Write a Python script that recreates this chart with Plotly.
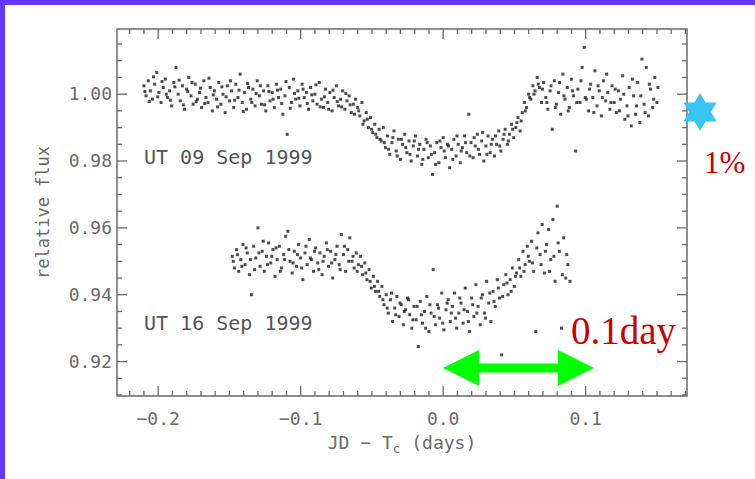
import plotly.graph_objects as go

# ---------------- data ----------------
sep09_x = [
    -0.2100, -0.2085, -0.2070, -0.2055, -0.2040, -0.2025, -0.2010, -0.1995, -0.1980, -0.1965,
    -0.1950, -0.1935, -0.1920, -0.1905, -0.1890, -0.1875, -0.1860, -0.1845, -0.1830, -0.1815,
    -0.1800, -0.1785, -0.1770, -0.1755, -0.1740, -0.1725, -0.1710, -0.1695, -0.1680, -0.1665,
    -0.1650, -0.1635, -0.1620, -0.1605, -0.1590, -0.1575, -0.1560, -0.1545, -0.1530, -0.1515,
    -0.1500, -0.1485, -0.1470, -0.1455, -0.1440, -0.1425, -0.1410, -0.1395, -0.1380, -0.1365,
    -0.1350, -0.1335, -0.1320, -0.1305, -0.1290, -0.1275, -0.1260, -0.1245, -0.1230, -0.1215,
    -0.1200, -0.1185, -0.1170, -0.1155, -0.1140, -0.1125, -0.1110, -0.1095, -0.1080, -0.1065,
    -0.1050, -0.1035, -0.1020, -0.1005, -0.0990, -0.0975, -0.0960, -0.0945, -0.0930, -0.0915,
    -0.0900, -0.0885, -0.0870, -0.0855, -0.0840, -0.0825, -0.0810, -0.0795, -0.0780, -0.0765,
    -0.0750, -0.0735, -0.0720, -0.0705, -0.0690, -0.0675, -0.0660, -0.0645, -0.0630, -0.0615,
    -0.0600, -0.0585, -0.0570, -0.0555, -0.0540, -0.0525, -0.0510, -0.0495, -0.0480, -0.0465,
    -0.0450, -0.0435, -0.0420,
    -0.0405, -0.0390, -0.0375, -0.0360, -0.0345, -0.0330, -0.0315, -0.0300, -0.0285, -0.0270,
    -0.0255, -0.0240, -0.0225, -0.0210, -0.0195, -0.0180, -0.0165, -0.0150, -0.0135, -0.0120,
    -0.0105, -0.0090, -0.0075, -0.0060, -0.0045, -0.0030, -0.0015, 0.0000, 0.0015, 0.0030,
    0.0045, 0.0060, 0.0075, 0.0090, 0.0105, 0.0120, 0.0135, 0.0150, 0.0165, 0.0180,
    0.0195, 0.0210, 0.0225, 0.0240, 0.0255, 0.0270, 0.0285, 0.0300, 0.0315, 0.0330,
    0.0345, 0.0360, 0.0375, 0.0390, 0.0405,
    0.0420, 0.0435, 0.0450, 0.0465, 0.0480, 0.0495, 0.0510, 0.0525, 0.0540, 0.0555,
    0.0570, 0.0585, 0.0600, 0.0615, 0.0630, 0.0645, 0.0660, 0.0675, 0.0690,
    0.0705, 0.0720, 0.0735, 0.0750, 0.0765, 0.0780, 0.0795, 0.0810, 0.0825, 0.0840,
    0.0855, 0.0870, 0.0885, 0.0900, 0.0915, 0.0930, 0.0945, 0.0960, 0.0975, 0.0990,
    0.1005, 0.1020, 0.1035, 0.1050, 0.1065, 0.1080, 0.1095, 0.1110, 0.1125, 0.1140,
    0.1155, 0.1170, 0.1185, 0.1200, 0.1215, 0.1230, 0.1245, 0.1260, 0.1275, 0.1290,
    0.1305, 0.1320, 0.1335, 0.1350, 0.1365, 0.1380, 0.1395, 0.1410, 0.1425, 0.1440,
    0.1455, 0.1470, 0.1485, 0.1500,
    # second pass of exposures
    -0.2093, -0.2063, -0.2033, -0.2003, -0.1973, -0.1943, -0.1913, -0.1883, -0.1853, -0.1823,
    -0.1793, -0.1763, -0.1733, -0.1703, -0.1673, -0.1643, -0.1613, -0.1583, -0.1553, -0.1523,
    -0.1493, -0.1463, -0.1433, -0.1403, -0.1373, -0.1343, -0.1313, -0.1283, -0.1253, -0.1223,
    -0.1193, -0.1163, -0.1133, -0.1103, -0.1073, -0.1043, -0.1013, -0.0983, -0.0953, -0.0923,
    -0.0893, -0.0863, -0.0833, -0.0803, -0.0773, -0.0743, -0.0713, -0.0683, -0.0653, -0.0623,
    -0.0593, -0.0563, -0.0533, -0.0503, -0.0473, -0.0443, -0.0413, -0.0383, -0.0353, -0.0323,
    -0.0293, -0.0263, -0.0233, -0.0203, -0.0173, -0.0143, -0.0113, -0.0083, -0.0053, -0.0023,
    0.0007, 0.0037, 0.0067, 0.0097, 0.0127, 0.0157, 0.0187, 0.0217, 0.0247, 0.0277,
    0.0307, 0.0337, 0.0367, 0.0397, 0.0427, 0.0457, 0.0487, 0.0517, 0.0547, 0.0577,
    0.0607, 0.0637, 0.0667,
    0.0697, 0.0727, 0.0757, 0.0787, 0.0817, 0.0847, 0.0877, 0.0907, 0.0937, 0.0967,
    0.0997, 0.1027, 0.1057, 0.1087, 0.1117, 0.1147, 0.1177, 0.1207, 0.1237, 0.1267,
    0.1297, 0.1327, 0.1357, 0.1387, 0.1417, 0.1447, 0.1477, 0.1507,
]
sep09_y = [
    1.0025, 0.9995, 1.0040, 1.0010, 0.9985, 1.0030, 1.0065, 1.0005, 0.9975, 1.0020,
    1.0045, 0.9990, 1.0010, 0.9965, 1.0035, 1.0080, 1.0000, 0.9980, 1.0025, 0.9955,
    1.0015, 1.0050, 0.9995, 0.9970, 1.0030, 0.9985, 1.0005, 0.9960, 1.0040, 0.9990,
    0.9975, 1.0020, 0.9950, 1.0010, 0.9985, 1.0035, 0.9970, 1.0000, 0.9945, 1.0025,
    0.9980, 1.0010, 0.9960, 1.0030, 0.9990, 1.0060, 0.9975, 1.0005, 0.9955, 1.0020,
    0.9985, 1.0015, 0.9965, 1.0040, 0.9995, 0.9970, 1.0010, 0.9950, 1.0025, 0.9980,
    1.0005, 0.9960, 1.0030, 0.9990, 1.0015, 0.9940, 0.9995, 0.9880, 1.0020, 0.9975,
    1.0045, 0.9985, 1.0010, 0.9965, 1.0030, 0.9990, 1.0005, 0.9955, 1.0020, 0.9980,
    1.0000, 0.9970, 1.0035, 0.9985, 0.9960, 1.0015, 0.9975, 1.0005, 0.9950, 0.9990,
    1.0025, 0.9965, 0.9985, 1.0010, 0.9955, 0.9980, 0.9995, 0.9945, 0.9970, 0.9985,
    0.9960, 0.9935, 0.9975, 0.9920, 0.9945, 0.9900, 0.9930, 0.9885, 0.9910, 0.9870,
    0.9895, 0.9860, 0.9900,
    0.9840, 0.9875, 0.9820, 0.9855, 0.9890, 0.9830, 0.9865, 0.9805, 0.9850, 0.9880,
    0.9825, 0.9860, 0.9800, 0.9845, 0.9875, 0.9815, 0.9850, 0.9790, 0.9835, 0.9865,
    0.9810, 0.9845, 0.9760, 0.9825, 0.9855, 0.9795, 0.9840, 0.9870, 0.9810, 0.9850,
    0.9780, 0.9835, 0.9865, 0.9815, 0.9850, 0.9795, 0.9840, 0.9875, 0.9825, 0.9940,
    0.9855, 0.9810, 0.9845, 0.9880, 0.9820, 0.9860, 0.9800, 0.9845, 0.9875, 0.9825,
    0.9865, 0.9815, 0.9850, 0.9890, 0.9830,
    0.9865, 0.9895, 0.9850, 0.9880, 0.9910, 0.9870, 0.9900, 0.9930, 0.9890, 0.9945,
    0.9975, 0.9960, 1.0000, 0.9985, 1.0025, 1.0010, 1.0050, 1.0020, 0.9975,
    1.0035, 0.9990, 0.9955, 1.0010, 0.9895, 1.0040, 0.9970, 1.0005, 0.9940, 1.0060,
    0.9985, 1.0020, 0.9960, 1.0045, 0.9995, 0.9830, 1.0015, 0.9975, 1.0080, 1.0140,
    0.9985, 0.9950, 1.0030, 0.9990, 1.0070, 0.9965, 1.0010, 0.9935, 1.0040, 0.9980,
    1.0005, 0.9955, 1.0025, 0.9975, 0.9945, 1.0010, 0.9985, 1.0055, 0.9925, 0.9965,
    1.0020, 0.9905, 0.9995, 0.9940, 1.0035, 0.9915, 1.0105, 0.9970, 1.0080, 0.9935,
    1.0015, 0.9960, 1.0050, 0.9975,
    # second pass of exposures
    1.0008, 0.9978, 1.0052, 0.9992, 1.0038, 1.0000, 0.9982, 1.0022, 1.0042, 0.9968,
    1.0008, 1.0035, 0.9978, 1.0018, 0.9972, 1.0048, 0.9998, 0.9962, 1.0022, 0.9992,
    1.0040, 0.9982, 1.0012, 0.9948, 1.0032, 0.9975, 1.0002, 1.0025, 0.9968, 1.0008,
    0.9985, 1.0012, 0.9972, 1.0038, 0.9958, 1.0002, 0.9988, 1.0015, 0.9972, 0.9998,
    1.0028, 0.9962, 0.9992, 0.9955, 1.0012, 0.9978, 0.9962, 1.0002, 0.9968, 0.9940,
    0.9950, 0.9910, 0.9925, 0.9895, 0.9880, 0.9865, 0.9855, 0.9835, 0.9870, 0.9815,
    0.9865, 0.9840, 0.9820, 0.9860, 0.9835, 0.9805, 0.9855, 0.9820, 0.9790, 0.9860,
    0.9830, 0.9845, 0.9805, 0.9875, 0.9830, 0.9855, 0.9815, 0.9870, 0.9835, 0.9885,
    0.9820, 0.9850, 0.9875, 0.9845, 0.9880, 0.9860, 0.9895, 0.9915, 0.9920, 0.9950,
    0.9990, 1.0000, 1.0030,
    1.0015, 0.9975, 1.0025, 0.9960, 1.0035, 0.9995, 0.9950, 1.0010, 0.9975, 1.0040,
    0.9990, 1.0015, 0.9945, 1.0025, 0.9990, 1.0060, 0.9975, 1.0015, 0.9950, 1.0000,
    0.9935, 1.0045, 0.9965, 0.9995, 0.9945, 1.0030, 0.9985, 1.0020,
]

sep16_x = [
    -0.1480, -0.1465, -0.1450, -0.1435, -0.1420, -0.1405, -0.1390, -0.1375, -0.1360, -0.1345,
    -0.1330, -0.1315, -0.1300, -0.1285, -0.1270, -0.1255, -0.1240, -0.1225, -0.1210, -0.1195,
    -0.1180, -0.1165, -0.1150, -0.1135, -0.1120, -0.1105, -0.1090, -0.1075, -0.1060, -0.1045,
    -0.1030, -0.1015, -0.1000, -0.0985, -0.0970, -0.0955, -0.0940, -0.0925, -0.0910, -0.0895,
    -0.0880, -0.0865, -0.0850, -0.0835, -0.0820, -0.0805, -0.0790, -0.0775, -0.0760, -0.0745,
    -0.0730, -0.0715, -0.0700, -0.0685, -0.0670, -0.0655, -0.0640, -0.0625, -0.0610,
    -0.0595, -0.0580, -0.0565, -0.0550, -0.0535, -0.0520, -0.0505, -0.0490, -0.0475, -0.0460,
    -0.0445, -0.0430,
    -0.0415, -0.0400, -0.0385, -0.0370, -0.0355, -0.0340, -0.0325, -0.0310, -0.0295, -0.0280,
    -0.0265, -0.0250, -0.0235, -0.0220, -0.0205, -0.0190, -0.0175, -0.0160, -0.0145, -0.0130,
    -0.0115, -0.0100, -0.0085, -0.0070, -0.0055, -0.0040, -0.0025, -0.0010, 0.0005, 0.0020,
    0.0035, 0.0050, 0.0065, 0.0080, 0.0095, 0.0110, 0.0125, 0.0140, 0.0155, 0.0170,
    0.0185, 0.0200, 0.0215, 0.0230, 0.0245, 0.0260, 0.0275, 0.0290, 0.0305, 0.0320,
    0.0335,
    0.0350, 0.0365, 0.0380, 0.0395, 0.0410, 0.0425, 0.0440, 0.0455, 0.0470, 0.0485,
    0.0500, 0.0515, 0.0530, 0.0545, 0.0560, 0.0575, 0.0590,
    0.0605, 0.0620, 0.0635, 0.0650, 0.0665, 0.0680, 0.0695, 0.0710, 0.0725, 0.0740,
    0.0755, 0.0770, 0.0785, 0.0800, 0.0815, 0.0830, 0.0845, 0.0860, 0.0875, 0.0890,
    # second pass of exposures
    -0.1473, -0.1443, -0.1413, -0.1383, -0.1353, -0.1323, -0.1293, -0.1263, -0.1233, -0.1203,
    -0.1173, -0.1143, -0.1113, -0.1083, -0.1053, -0.1023, -0.0993, -0.0963, -0.0933, -0.0903,
    -0.0873, -0.0843, -0.0813, -0.0783, -0.0753, -0.0723, -0.0693, -0.0663, -0.0633, -0.0603,
    -0.0573, -0.0543, -0.0513, -0.0483, -0.0453, -0.0423, -0.0393, -0.0363, -0.0333, -0.0303,
    -0.0273, -0.0243, -0.0213, -0.0183, -0.0153, -0.0123, -0.0093, -0.0063, -0.0033, -0.0003,
    0.0027, 0.0057, 0.0087, 0.0117, 0.0147, 0.0177, 0.0207, 0.0237, 0.0267, 0.0297,
    0.0327, 0.0357, 0.0387, 0.0417, 0.0447, 0.0477, 0.0507, 0.0537, 0.0567, 0.0597,
    0.0627, 0.0657, 0.0687, 0.0717, 0.0747, 0.0777, 0.0807, 0.0837, 0.0867,
]
sep16_y = [
    0.9515, 0.9480, 0.9535, 0.9470, 0.9505, 0.9550, 0.9490, 0.9525, 0.9460, 0.9400,
    0.9545, 0.9510, 0.9600, 0.9485, 0.9530, 0.9470, 0.9515, 0.9555, 0.9495, 0.9535,
    0.9455, 0.9505, 0.9545, 0.9480, 0.9520, 0.9575, 0.9590, 0.9500, 0.9465, 0.9530,
    0.9485, 0.9550, 0.9510, 0.9445, 0.9525, 0.9490, 0.9565, 0.9505, 0.9470, 0.9540,
    0.9495, 0.9525, 0.9460, 0.9515, 0.9555, 0.9485, 0.9530, 0.9450, 0.9505, 0.9545,
    0.9490, 0.9580, 0.9520, 0.9470, 0.9535, 0.9570, 0.9500, 0.9480, 0.9525,
    0.9490, 0.9515, 0.9460, 0.9495, 0.9445, 0.9475, 0.9420, 0.9455, 0.9410, 0.9440,
    0.9395, 0.9425,
    0.9370, 0.9400, 0.9345, 0.9385, 0.9320, 0.9360, 0.9395, 0.9335, 0.9370, 0.9310,
    0.9355, 0.9390, 0.9340, 0.9300, 0.9365, 0.9325, 0.9245, 0.9380, 0.9315, 0.9350,
    0.9395, 0.9290, 0.9345, 0.9475, 0.9310, 0.9370, 0.9330, 0.9405, 0.9295, 0.9355,
    0.9385, 0.9320, 0.9365, 0.9405, 0.9300, 0.9345, 0.9375, 0.9315, 0.9420, 0.9350,
    0.9290, 0.9390, 0.9335, 0.9430, 0.9365, 0.9310, 0.9400, 0.9345, 0.9440, 0.9375,
    0.9320,
    0.9410, 0.9365, 0.9445, 0.9390, 0.9220, 0.9430, 0.9460, 0.9400, 0.9445, 0.9480,
    0.9425, 0.9465, 0.9505, 0.9455, 0.9530, 0.9490, 0.9545,
    0.9500, 0.9560, 0.9470, 0.9290, 0.9585, 0.9520, 0.9610, 0.9465, 0.9550, 0.9595,
    0.9505, 0.9625, 0.9440, 0.9665, 0.9530, 0.9300, 0.9570, 0.9450, 0.9490, 0.9440,
    # second pass of exposures
    0.9500, 0.9520, 0.9485, 0.9540, 0.9505, 0.9475, 0.9525, 0.9560, 0.9490, 0.9515,
    0.9540, 0.9470, 0.9505, 0.9535, 0.9495, 0.9520, 0.9480, 0.9545, 0.9510, 0.9530,
    0.9475, 0.9500, 0.9535, 0.9495, 0.9520, 0.9475, 0.9545, 0.9500, 0.9515, 0.9470,
    0.9485, 0.9465, 0.9440, 0.9425, 0.9410, 0.9385, 0.9360, 0.9405, 0.9340, 0.9375,
    0.9350, 0.9385, 0.9325, 0.9365, 0.9340, 0.9300, 0.9370, 0.9335, 0.9360, 0.9315,
    0.9375, 0.9345, 0.9330, 0.9390, 0.9355, 0.9320, 0.9370, 0.9345, 0.9390, 0.9330,
    0.9405, 0.9380, 0.9420, 0.9395, 0.9435, 0.9410, 0.9455, 0.9480, 0.9470, 0.9515,
    0.9495, 0.9540, 0.9490, 0.9530, 0.9470, 0.9515, 0.9555, 0.9460, 0.9520,
]

x_range = [-0.2289, 0.1711]
y_range = [0.9097, 1.0195]
x_major = [-0.2, -0.1, 0.0, 0.1]
y_major = [0.92, 0.94, 0.96, 0.98, 1.00]
x_minor_step = 0.01
y_minor_step = 0.005
label_sep09 = "UT 09 Sep 1999"
label_sep16 = "UT 16 Sep 1999"

# ---------------- layout helpers (pixel -> paper) ----------------
W, H = 755, 479
L, R, T, B = 117, 687, 29, 396
PW, PH = R - L, B - T


def px(x):
    return (x - L) / PW


def py(y):
    return (B - y) / PH


def path(points):
    s = "M " + " L ".join(f"{px(a):.5f},{py(b):.5f}" for a, b in points)
    return s + " Z"


GRAY = "#6a6a6a"
MONO = "DejaVu Sans Mono"
SERIF = "Liberation Serif"
PURPLE = "#6338ff"

fig = go.Figure()
marker = dict(symbol="square", size=3, color="rgba(25,25,25,0.78)", line=dict(width=0))
fig.add_trace(go.Scatter(x=sep09_x, y=sep09_y, mode="markers", marker=marker,
                         showlegend=False, hoverinfo="skip"))
fig.add_trace(go.Scatter(x=sep16_x, y=sep16_y, mode="markers", marker=marker,
                         showlegend=False, hoverinfo="skip"))

fig.update_layout(
    xaxis=dict(
        range=x_range, tickmode="array", tickvals=x_major, tickformat=".1f",
        ticks="", showline=False, showgrid=False, zeroline=False,
        tickfont=dict(family=MONO, size=18, color=GRAY), ticklabelstandoff=10,
        title=dict(text="JD − T<sub>c</sub> (days)",
                   font=dict(family=MONO, size=18, color=GRAY), standoff=8),
    ),
    yaxis=dict(
        range=y_range, tickmode="array", tickvals=y_major, tickformat=".2f",
        ticks="", showline=False, showgrid=False, zeroline=False,
        tickfont=dict(family=MONO, size=18, color=GRAY), ticklabelstandoff=4,
        title=dict(text="relative flux", font=dict(family=MONO, size=17, color=GRAY),
                   standoff=14),
    ),
)

shapes = []
# frame of the plot box
shapes.append(dict(type="rect", xref="paper", yref="paper", x0=0, x1=1, y0=0, y1=1,
                   line=dict(color=GRAY, width=1.5), fillcolor="rgba(0,0,0,0)", layer="above"))


def add_xtick(v, length):
    h = length / PH
    for y0, y1 in ((0, h), (1, 1 - h)):
        shapes.append(dict(type="line", xref="x", yref="paper", x0=v, x1=v, y0=y0, y1=y1,
                           line=dict(color=GRAY, width=1.3), layer="above"))


def add_ytick(v, length):
    w = length / PW
    for x0, x1 in ((0, w), (1, 1 - w)):
        shapes.append(dict(type="line", xref="paper", yref="y", x0=x0, x1=x1, y0=v, y1=v,
                           line=dict(color=GRAY, width=1.3), layer="above"))


# tick marks (major: long, minor: short) on all four sides
k = int(x_range[0] / x_minor_step)
while k * x_minor_step <= x_range[1]:
    v = round(k * x_minor_step, 4)
    if v >= x_range[0]:
        add_xtick(v, 10 if any(abs(v - m) < 1e-9 for m in x_major) else 5)
    k += 1
k = int(y_range[0] / y_minor_step)
while k * y_minor_step <= y_range[1]:
    v = round(k * y_minor_step, 4)
    if v >= y_range[0]:
        add_ytick(v, 10 if any(abs(v - m) < 1e-9 for m in y_major) else 5)
    k += 1

shapes += [
    # purple frame (left and top edges)
    dict(type="rect", xref="paper", yref="paper", x0=px(-5), x1=px(5), y0=py(490), y1=py(-5),
         fillcolor=PURPLE, line=dict(width=0), layer="above"),
    dict(type="rect", xref="paper", yref="paper", x0=px(-5), x1=px(760), y0=py(5), y1=py(-5),
         fillcolor=PURPLE, line=dict(width=0), layer="above"),
    # green double arrow (0.1 day)
    dict(type="path", xref="paper", yref="paper", layer="above",
         path=path([(443, 368), (479, 350), (479, 363.5), (558, 363.5), (558, 350), (594, 368),
                    (558, 386), (558, 372.5), (479, 372.5), (479, 386)]),
         fillcolor="#00ff00", line=dict(width=0)),
    # blue six-pointed star
    dict(type="path", xref="paper", yref="paper", layer="above",
         path=path([(700, 93), (716.5, 121.5), (683.5, 121.5)]),
         fillcolor="#36c5f4", line=dict(width=0)),
    dict(type="path", xref="paper", yref="paper", layer="above",
         path=path([(700, 131), (716.5, 102.5), (683.5, 102.5)]),
         fillcolor="#36c5f4", line=dict(width=0)),
]

annotations = [
    dict(text=label_sep09, xref="paper", yref="paper", x=px(142), y=py(157),
         xanchor="left", yanchor="middle", showarrow=False,
         font=dict(family=MONO, size=20, color="#555555")),
    dict(text=label_sep16, xref="paper", yref="paper", x=px(142), y=py(323),
         xanchor="left", yanchor="middle", showarrow=False,
         font=dict(family=MONO, size=20, color="#555555")),
    dict(text="1%", xref="paper", yref="paper", x=px(724), y=py(162),
         xanchor="center", yanchor="middle", showarrow=False,
         font=dict(family=SERIF, size=31, color="#cc0000")),
    dict(text="0.1day", xref="paper", yref="paper", x=px(624), y=py(331),
         xanchor="center", yanchor="middle", showarrow=False,
         font=dict(family=SERIF, size=39, color="#cc0000")),
]

fig.update_layout(
    width=W, height=H, autosize=False,
    margin=dict(l=L, r=W - R, t=T, b=H - B, pad=0),
    paper_bgcolor="white", plot_bgcolor="white",
    shapes=shapes, annotations=annotations,
)

fig.write_html("out.html")
